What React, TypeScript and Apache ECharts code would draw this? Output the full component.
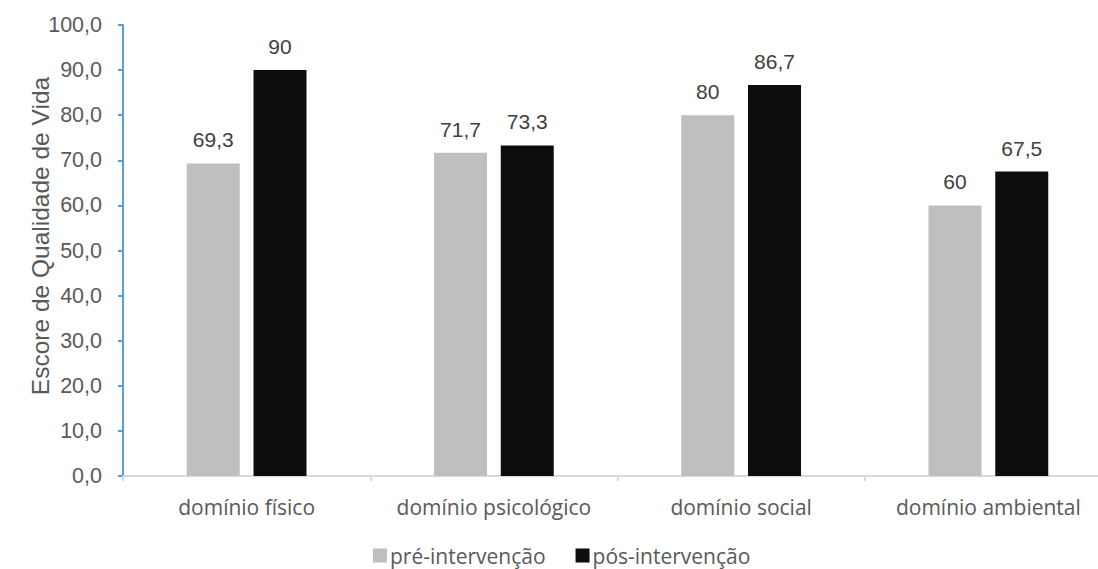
import React, { useEffect, useRef } from "react";
import * as echarts from "echarts";

const categories = ["domínio físico", "domínio psicológico", "domínio social", "domínio ambiental"];
const preValues = [69.3, 71.7, 80, 60];
const posValues = [90, 73.3, 86.7, 67.5];
const seriesNames = ["pré-intervenção", "pós-intervenção"];
const yTicks = { min: 0, max: 100, interval: 10 };
const yTitle = "Escore de Qualidade de Vida";

const comma = (v: number) => String(v).replace(".", ",");

export default function App() {
  const ref = useRef<HTMLDivElement>(null);

  useEffect(() => {
    if (!ref.current) return;
    const chart = echarts.init(ref.current, null, { renderer: "svg" });
    const labelStyle = {
      show: true,
      position: "top" as const,
      distance: 13,
      color: "#404040",
      fontSize: 21,
      fontFamily: "Liberation Sans, Arial, sans-serif",
      formatter: (p: any) => comma(p.value),
    };
    chart.setOption({
      animation: false,
      backgroundColor: "#ffffff",
      grid: { left: 123, right: 0, top: 25, bottom: 93, containLabel: false },
      legend: {
        top: 540,
        left: 368,
        itemWidth: 14,
        itemHeight: 14,
        itemGap: 30,
        icon: "rect",
        textStyle: { color: "#595959", fontSize: 21, fontFamily: "Open Sans, sans-serif", padding: [0, 0, 0, -2] },
        data: seriesNames,
      },
      graphic: [
        {
          type: "text",
          x: 40,
          y: 236,
          rotation: Math.PI / 2,
          style: {
            text: yTitle,
            fill: "#595959",
            fontSize: 24.5,
            fontFamily: "Liberation Sans, Arial, sans-serif",
            align: "center",
            verticalAlign: "middle",
          },
        },
      ],
      xAxis: {
        type: "category",
        data: categories,
        axisLine: { lineStyle: { color: "#D9D9D9", width: 2 } },
        axisTick: { show: true, length: 5, lineStyle: { color: "#D9D9D9", width: 2 } },
        axisLabel: {
          interval: 0,
          hideOverlap: false,
          color: "#595959",
          fontSize: 21,
          fontFamily: "Open Sans, sans-serif",
          margin: 20,
        },
      },
      yAxis: {
        type: "value",
        min: yTicks.min,
        max: yTicks.max,
        interval: yTicks.interval,
        axisLine: { show: true, lineStyle: { color: "#5B9BD5", width: 2 } },
        axisTick: { show: true, length: 5, lineStyle: { color: "#5B9BD5", width: 2 } },
        splitLine: { show: false },
        axisLabel: {
          color: "#595959",
          fontSize: 21.5,
          fontFamily: "Liberation Sans, Arial, sans-serif",
          margin: 21,
          formatter: (v: number) => v.toFixed(1).replace(".", ","),
        },
      },
      series: [
        {
          name: seriesNames[0],
          type: "bar",
          data: preValues,
          barWidth: 53,
          barGap: "26%",
          itemStyle: { color: "#BFBFBF" },
          label: labelStyle,
        },
        {
          name: seriesNames[1],
          type: "bar",
          data: posValues,
          barWidth: 53,
          barGap: "26%",
          itemStyle: { color: "#0D0D0D" },
          label: labelStyle,
        },
      ],
    });
    return () => chart.dispose();
  }, []);

  return (
    <div style={{ position: "fixed", left: 0, top: 0, width: 1098, height: 569, overflow: "hidden", background: "#fff" }}>
      <div ref={ref} style={{ width: 1112, height: 569 }} />
    </div>
  );
}
